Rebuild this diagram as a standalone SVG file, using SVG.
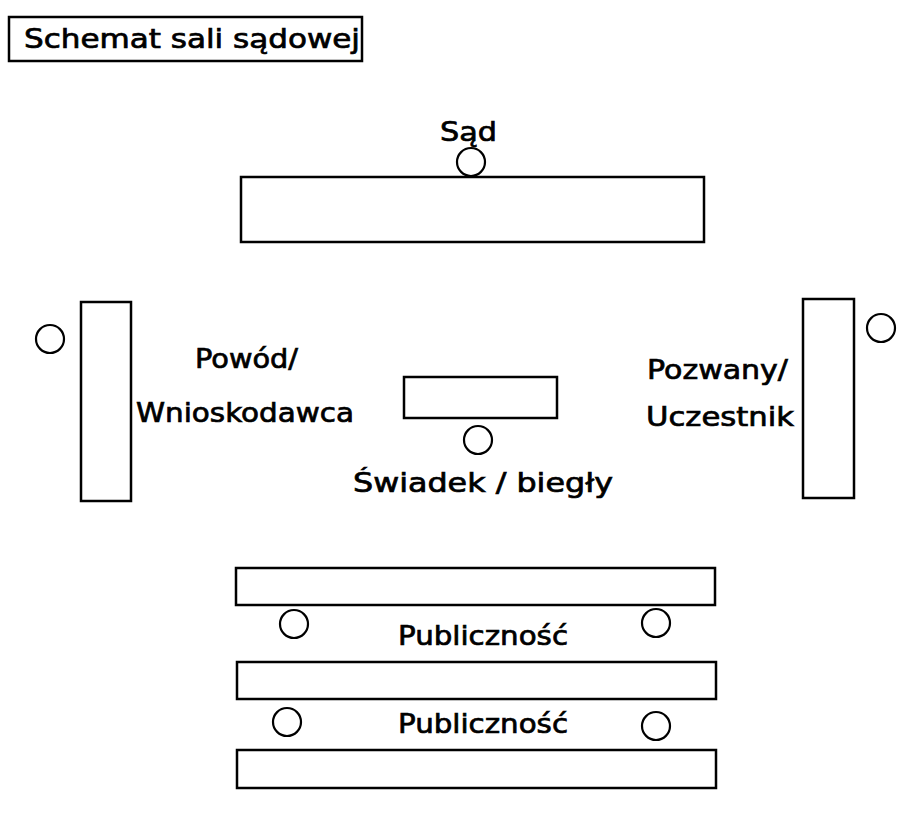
<svg xmlns="http://www.w3.org/2000/svg" width="911" height="819" viewBox="0 0 911 819">
  <style>
    .box { fill: #ffffff; stroke: #000000; stroke-width: 2.5; }
    .seat { fill: #ffffff; stroke: #000000; stroke-width: 2.2; }
    .lbl { font-family: "Comic Sans MS", "DejaVu Sans", "Noto Sans", sans-serif; font-size: 26px; fill: #000000; stroke: #000000; stroke-width: 0.7; }
  </style>
  <rect width="911" height="819" fill="#ffffff"/>

  <!-- title -->
  <g id="title">
    <rect class="box" x="9" y="17" width="353" height="44"/>
    <text class="lbl" x="24" y="48" textLength="336" lengthAdjust="spacingAndGlyphs">Schemat sali sądowej</text>
  </g>

  <!-- judges' bench -->
  <g id="sad">
    <text class="lbl" x="440" y="141" textLength="57" lengthAdjust="spacingAndGlyphs">Sąd</text>
    <circle class="seat" cx="471" cy="162" r="14"/>
    <rect class="box" x="241" y="177" width="463" height="65"/>
  </g>

  <!-- plaintiff side -->
  <g id="powod">
    <circle class="seat" cx="50" cy="339" r="14"/>
    <rect class="box" x="81" y="302" width="50" height="199"/>
    <text class="lbl" x="195" y="368" textLength="103" lengthAdjust="spacingAndGlyphs">Powód/</text>
    <text class="lbl" x="136" y="422" textLength="218" lengthAdjust="spacingAndGlyphs">Wnioskodawca</text>
  </g>

  <!-- witness stand -->
  <g id="swiadek">
    <rect class="box" x="404" y="377" width="153" height="41"/>
    <circle class="seat" cx="478" cy="440" r="14"/>
    <text class="lbl" x="353" y="492" textLength="260" lengthAdjust="spacingAndGlyphs">Świadek / biegły</text>
  </g>

  <!-- defendant side -->
  <g id="pozwany">
    <text class="lbl" x="647" y="379" textLength="141" lengthAdjust="spacingAndGlyphs">Pozwany/</text>
    <text class="lbl" x="646" y="426" textLength="148" lengthAdjust="spacingAndGlyphs">Uczestnik</text>
    <rect class="box" x="803" y="299" width="51" height="199"/>
    <circle class="seat" cx="881" cy="328" r="14"/>
  </g>

  <!-- public benches -->
  <g id="publicznosc-1">
    <rect class="box" x="236" y="568" width="479" height="37"/>
    <circle class="seat" cx="294" cy="624" r="14"/>
    <circle class="seat" cx="656" cy="623" r="14"/>
    <text class="lbl" x="398" y="645" textLength="170" lengthAdjust="spacingAndGlyphs">Publiczność</text>
  </g>

  <g id="publicznosc-2">
    <rect class="box" x="237" y="662" width="479" height="37"/>
    <circle class="seat" cx="287" cy="722" r="14"/>
    <circle class="seat" cx="656" cy="726" r="14"/>
    <text class="lbl" x="398" y="733" textLength="170" lengthAdjust="spacingAndGlyphs">Publiczność</text>
    <rect class="box" x="237" y="750" width="479" height="38"/>
  </g>

  <g id="connectors"/>
</svg>
